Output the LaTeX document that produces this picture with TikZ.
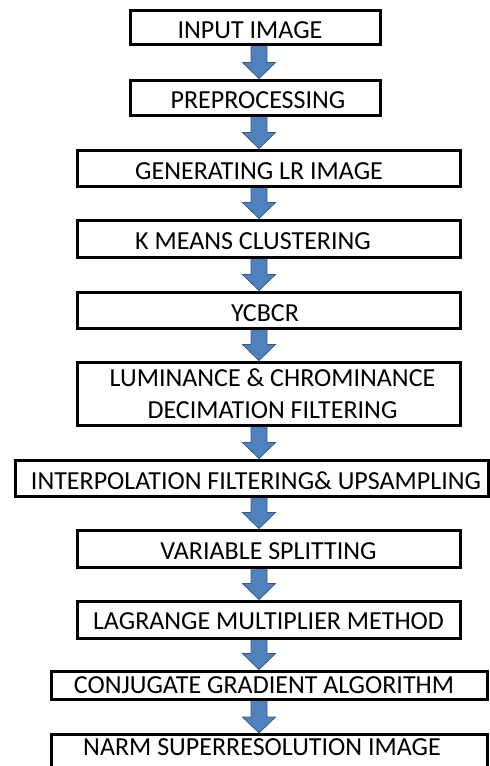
\documentclass[tikz,border=0pt]{standalone}
\usepackage{fontspec}
\setmainfont{Carlito}
\usetikzlibrary{calc,backgrounds}
\definecolor{arrfill}{HTML}{4F81BD}
\definecolor{arredge}{HTML}{385D8A}
\begin{document}
\begin{tikzpicture}[x=1pt,y=-1pt,
  stepbox/.style={draw=black, line width=3pt, fill=white, inner sep=0pt,
    font=\fontsize{26}{32}\selectfont, align=center, text height=22pt, text depth=0pt},
  tshift/.style={execute at begin node={\hspace*{#1}}},
  flowarrow/.style={fill=arrfill, draw=arredge, line width=0.8pt, line join=miter}]
\useasboundingbox (0,0) rectangle (490,766);
\clip (0,0) rectangle (490,766);
\coordinate (axis) at (259,0);
\node[stepbox, tshift=-10pt, minimum width=250, minimum height=34] (n1) at (255,27) {INPUT IMAGE};
\node[stepbox, tshift=6pt, minimum width=250, minimum height=35] (n2) at (255,97.5) {PREPROCESSING};
\node[stepbox, tshift=-19pt, minimum width=383, minimum height=36] (n3) at (268.5,168) {GENERATING LR IMAGE};
\node[stepbox, tshift=-31pt, minimum width=383, minimum height=37] (n4) at (268.5,238.5) {K MEANS CLUSTERING};
\node[stepbox, tshift=-7pt, minimum width=383, minimum height=36] (n5) at (268.5,310) {YCBCR};
\node[stepbox, text height={}, text depth={}, minimum width=383, minimum height=63] (n6) at (268.5,393.5) {\hspace*{8pt}LUMINANCE \& CHROMINANCE\\\hspace*{8pt}DECIMATION FILTERING};
\node[stepbox, tshift=9pt, minimum width=473, minimum height=36] (n7) at (251.5,478) {INTERPOLATION FILTERING\& UPSAMPLING};
\node[stepbox, minimum width=383, minimum height=37] (n8) at (268.5,548.5) {VARIABLE SPLITTING};
\node[stepbox, text height=20pt, minimum width=383, minimum height=37] (n9) at (268.5,619.5) {LAGRANGE MULTIPLIER METHOD};
\node[stepbox, tshift=-10pt, text height={}, minimum width=436, minimum height=28] (n10) at (269,685) {CONJUGATE GRADIENT ALGORITHM};
\node[stepbox, tshift=-14pt, minimum width=436, anchor=north, text height=21pt, text depth=30pt] (n11) at (269,733) {NARM SUPERRESOLUTION IMAGE};
\begin{scope}[on background layer]
\foreach \a/\b in {n1/n2,n2/n3,n3/n4,n4/n5,n5/n6,n6/n7,n7/n8,n8/n9,n9/n10,n10/n11}{
  \draw[flowarrow] let \p1=(\a.south -| axis), \p2=(\b.north -| axis) in
    (\x1-8pt,\y1) -- (\x1+8pt,\y1) -- (\x1+8pt,\y2+16pt) -- (\x1+16.5pt,\y2+16pt)
    -- (\x1,\y2) -- (\x1-16.5pt,\y2+16pt) -- (\x1-8pt,\y2+16pt) -- cycle;
}
\end{scope}
\end{tikzpicture}
\end{document}
